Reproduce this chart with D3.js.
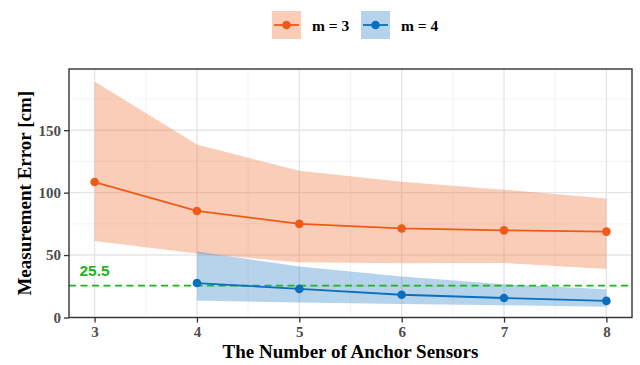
<!DOCTYPE html>
<html>
<head>
<meta charset="utf-8">
<script src="https://cdn.jsdelivr.net/npm/d3@7"></script>
<style>
  html, body { margin: 0; padding: 0; background: #fff; }
  svg { display: block; }
</style>
</head>
<body>
<svg id="chart" width="640" height="365"></svg>
<script>
// Anchor sensor counts
const anchors = [3, 4, 5, 6, 7, 8];

// m = 3: mean error and band bounds (cm)
const m3Mean  = [108.5, 85.3, 75.0, 71.3, 69.8, 68.8];
const m3Upper = [189, 138.5, 117.5, 108.8, 102.3, 95.3];
const m3Lower = [61.2, 51.2, 44.2, 43.5, 43.6, 38.8];

// m = 4: starts at 4 anchors
const m4Anchors = [4, 5, 6, 7, 8];
const m4Mean  = [27.6, 22.9, 18.2, 15.6, 13.3];
const m4Upper = [52.8, 40.8, 32.8, 26.6, 22.6];
const m4Lower = [13.6, 12.0, 10.8, 9.9, 8.6];

const threshold = 25.5;
const yTicks = [0, 50, 100, 150];
const seriesLabels = ["m = 3", "m = 4"];

const colors = {
  m3: "#EF5A17",
  m4: "#0B6FBF",
  ref: "#21B321"
};

const svg = d3.select("#chart");
const panel = { left: 69, right: 632, top: 69, bottom: 317.5 };

const x = d3.scaleLinear().domain([2.75, 8.25]).range([panel.left, panel.right]);
const y = d3.scaleLinear().domain([0, 199]).range([panel.bottom, panel.top]);

const serif = "'Liberation Serif', 'Times New Roman', serif";

// Grid (major + minor)
const grid = svg.append("g");
const xMinor = d3.range(2.5, 8.51, 0.5).filter(v => v % 1 !== 0 && v > 2.75 && v < 8.25);
const yMinor = [25, 75, 125, 175];
grid.selectAll(".xmin").data(xMinor).enter().append("line")
  .attr("x1", d => x(d)).attr("x2", d => x(d))
  .attr("y1", panel.top).attr("y2", panel.bottom)
  .attr("stroke", "#F0F0F0").attr("stroke-width", 0.8);
grid.selectAll(".ymin").data(yMinor).enter().append("line")
  .attr("x1", panel.left).attr("x2", panel.right)
  .attr("y1", d => y(d)).attr("y2", d => y(d))
  .attr("stroke", "#F0F0F0").attr("stroke-width", 0.8);
grid.selectAll(".xmaj").data(anchors).enter().append("line")
  .attr("x1", d => x(d)).attr("x2", d => x(d))
  .attr("y1", panel.top).attr("y2", panel.bottom)
  .attr("stroke", "#E6E6E6").attr("stroke-width", 1.4);
grid.selectAll(".ymaj").data(yTicks).enter().append("line")
  .attr("x1", panel.left).attr("x2", panel.right)
  .attr("y1", d => y(d)).attr("y2", d => y(d))
  .attr("stroke", "#E6E6E6").attr("stroke-width", 1.4);

// Bands
const area = d3.area()
  .x(d => x(d.x)).y0(d => y(d.lo)).y1(d => y(d.hi));
const m3Data = anchors.map((a, i) => ({ x: a, mean: m3Mean[i], lo: m3Lower[i], hi: m3Upper[i] }));
const m4Data = m4Anchors.map((a, i) => ({ x: a, mean: m4Mean[i], lo: m4Lower[i], hi: m4Upper[i] }));

svg.append("path").datum(m3Data).attr("d", area)
  .attr("fill", colors.m3).attr("fill-opacity", 0.3);
svg.append("path").datum(m4Data).attr("d", area)
  .attr("fill", colors.m4).attr("fill-opacity", 0.3);

// Reference threshold
svg.append("line")
  .attr("x1", panel.left).attr("x2", panel.right)
  .attr("y1", y(threshold)).attr("y2", y(threshold))
  .attr("stroke", colors.ref).attr("stroke-width", 1.6)
  .attr("stroke-dasharray", "7,4.5");
svg.append("text")
  .attr("x", x(3)).attr("y", y(threshold) - 9.5)
  .attr("text-anchor", "middle")
  .attr("font-family", "'Liberation Sans', Arial, sans-serif")
  .attr("font-size", 15.5)
  .attr("font-weight", "bold")
  .attr("fill", colors.ref)
  .text(String(threshold));

// Lines and points
const line = d3.line().x(d => x(d.x)).y(d => y(d.mean));
[[m3Data, colors.m3], [m4Data, colors.m4]].forEach(([data, c]) => {
  svg.append("path").datum(data).attr("d", line)
    .attr("fill", "none").attr("stroke", c).attr("stroke-width", 1.8);
  svg.selectAll(null).data(data).enter().append("circle")
    .attr("cx", d => x(d.x)).attr("cy", d => y(d.mean)).attr("r", 4.3)
    .attr("fill", c);
});

// Panel border
svg.append("rect")
  .attr("x", panel.left).attr("y", panel.top)
  .attr("width", panel.right - panel.left).attr("height", panel.bottom - panel.top)
  .attr("fill", "none").attr("stroke", "#333333").attr("stroke-width", 1.4);

// Axes
const xAxis = svg.append("g").attr("transform", `translate(0,${panel.bottom})`)
  .call(d3.axisBottom(x).tickValues(anchors).tickFormat(d3.format("d")).tickSize(5).tickPadding(4));
const yAxis = svg.append("g").attr("transform", `translate(${panel.left},0)`)
  .call(d3.axisLeft(y).tickValues(yTicks).tickSize(5).tickPadding(3));
[xAxis, yAxis].forEach(g => {
  g.attr("font-family", serif).attr("font-size", 15).attr("font-weight", "bold");
  g.select(".domain").remove();
  g.selectAll(".tick line").attr("stroke", "#333333").attr("stroke-width", 1.3);
  g.selectAll(".tick text").attr("fill", "#4D4D4D");
});

// Axis titles
svg.append("text")
  .attr("x", (panel.left + panel.right) / 2).attr("y", 358)
  .attr("text-anchor", "middle")
  .attr("font-family", serif).attr("font-size", 19).attr("font-weight", "bold")
  .attr("fill", "#000")
  .text("The Number of Anchor Sensors");
svg.append("text")
  .attr("transform", `translate(31,${(panel.top + panel.bottom) / 2}) rotate(-90)`)
  .attr("text-anchor", "middle")
  .attr("font-family", serif).attr("font-size", 19).attr("font-weight", "bold")
  .attr("fill", "#000")
  .text("Measurement Error [cm]");

// Legend
const legend = svg.append("g");
const legendItems = [
  { label: seriesLabels[0], color: colors.m3, x: 272 },
  { label: seriesLabels[1], color: colors.m4, x: 361 }
];
legendItems.forEach(it => {
  const g = legend.append("g").attr("transform", `translate(${it.x},11)`);
  g.append("rect").attr("width", 29).attr("height", 28)
    .attr("fill", it.color).attr("fill-opacity", 0.3);
  g.append("line").attr("x1", 2).attr("x2", 27).attr("y1", 14).attr("y2", 14)
    .attr("stroke", it.color).attr("stroke-width", 1.8);
  g.append("circle").attr("cx", 14.5).attr("cy", 14).attr("r", 4.3).attr("fill", it.color);
  g.append("text").attr("x", 40).attr("y", 19.5)
    .attr("font-family", serif).attr("font-size", 15.5).attr("font-weight", "bold")
    .attr("fill", "#000")
    .text(it.label);
});
</script>
</body>
</html>
